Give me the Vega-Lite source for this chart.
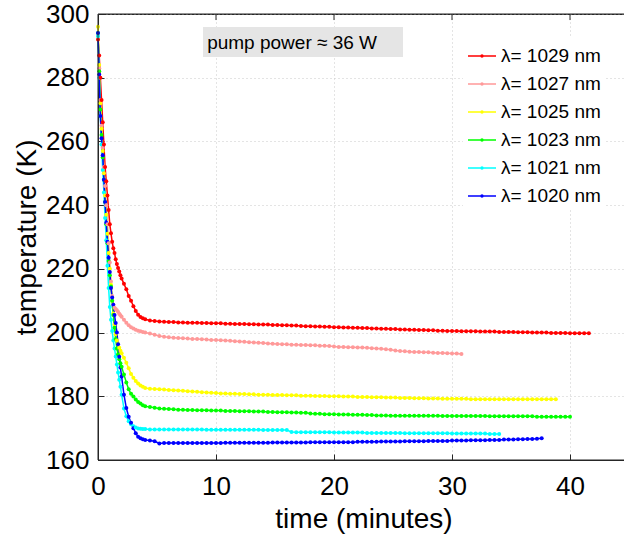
{
"$schema": "https://vega.github.io/schema/vega-lite/v6.json",
"width": 531, "height": 446,
"autosize": "none",
"padding": {"left": 98, "top": 14, "right": 0, "bottom": 85},
"background": "white",
"config": {
 "font": "Liberation Sans",
 "view": {"stroke": "#262626", "strokeWidth": 1, "strokeOpacity": 1},
 "axis": {"domain": true, "domainColor": "#262626", "domainWidth": 1, "tickColor": "#262626", "labelColor": "black", "titleColor": "black", "labelFont": "Liberation Sans", "titleFont": "Liberation Sans", "labelFontSize": 26, "titleFontSize": 28, "titleFontWeight": "normal", "gridColor": "#c8c8c8", "gridDash": [1, 3], "gridWidth": 1, "tickSize": -6, "labelFlush": false, "labelOverlap": false}
},
"datasets": {
 "temps": [
{"t":0,"1029":292,"1027":293,"1025":296,"1023":294,"1021":293,"1020":294},
{"t":0.1,"1029":287,"1027":283,"1025":284,"1023":282,"1021":280,"1020":281},
{"t":0.2,"1029":280,"1027":273,"1025":272,"1023":270,"1021":268,"1020":268},
{"t":0.3,"1029":273,"1027":265,"1025":264,"1023":262,"1021":259,"1020":261},
{"t":0.4,"1029":266,"1027":258,"1025":257,"1023":255,"1021":251,"1020":255.7},
{"t":0.5,"1029":259,"1027":252,"1025":250,"1023":248,"1021":244,"1020":248},
{"t":0.6,"1029":252,"1027":246,"1025":243,"1023":241,"1021":236,"1020":241},
{"t":0.7,"1029":247.5,"1027":240,"1025":237,"1023":234,"1021":229,"1020":234.5},
{"t":0.8,"1029":243,"1027":234,"1025":231,"1023":228,"1021":221,"1020":228.5},
{"t":0.9,"1029":238.5,"1027":228,"1025":225,"1023":222.5,"1021":214,"1020":223.5},
{"t":1.0,"1029":234,"1027":222,"1025":220,"1023":218,"1021":208,"1020":219},
{"t":1.1,"1029":231.2,"1027":216,"1025":215,"1023":214.5,"1021":204,"1020":214},
{"t":1.2,"1029":228.5,"1027":211.5,"1025":210,"1023":210,"1021":200.5,"1020":211},
{"t":1.3,"1029":226.5,"1027":208.7,"1025":206,"1023":205.5,"1021":197.5,"1020":208.7},
{"t":1.4,"1029":225,"1027":207.8,"1025":202.5,"1023":201.5,"1021":195,"1020":205.5},
{"t":1.5,"1029":223,"1027":207.4,"1025":199.5,"1023":198,"1021":192.5,"1020":203},
{"t":1.6,"1029":221.5,"1027":207,"1025":197.5,"1023":195,"1021":190,"1020":200},
{"t":1.7,"1029":220.3,"1027":206.5,"1025":196.4,"1023":193.2,"1021":187.5,"1020":196.3},
{"t":1.8,"1029":219.2,"1027":205.9,"1025":195.2,"1023":191.6,"1021":185.2,"1020":192.4},
{"t":1.9,"1029":218,"1027":205.4,"1025":194.3,"1023":190.4,"1021":183,"1020":189},
{"t":2.0,"1029":217,"1027":205,"1025":193.5,"1023":189.3,"1021":180.5,"1020":186.2},
{"t":2.2,"1029":215.3,"1027":204,"1025":192.1,"1023":186.8,"1021":176.2,"1020":180.5},
{"t":2.4,"1029":213.6,"1027":203.1,"1025":190.5,"1023":184.3,"1021":173.7,"1020":176.3},
{"t":2.6,"1029":211.5,"1027":202.3,"1025":188.8,"1023":182.2,"1021":172.2,"1020":173.6},
{"t":2.8,"1029":210,"1027":201.7,"1025":187,"1023":180.8,"1021":171.2,"1020":171.7},
{"t":3.0,"1029":208.3,"1027":201.3,"1025":185.8,"1023":179.9,"1021":170.6,"1020":170},
{"t":3.2,"1029":206.8,"1027":200.9,"1025":184.8,"1023":179,"1021":170.2,"1020":168.4},
{"t":3.4,"1029":205.6,"1027":200.6,"1025":184,"1023":178.2,"1021":169.9,"1020":167.3},
{"t":3.6,"1029":204.9,"1027":200.4,"1025":183.4,"1023":177.7,"1021":169.8,"1020":166.8},
{"t":3.8,"1029":204.5,"1027":200.2,"1025":183,"1023":177.2,"1021":169.7,"1020":166.5},
{"t":4.0,"1029":204.2,"1027":200,"1025":182.6,"1023":176.9,"1021":169.7,"1020":166.3},
{"t":4.4,"1029":203.8,"1027":199.7,"1025":182.4,"1023":176.6,"1021":169.6,"1020":166.1},
{"t":4.8,"1029":203.6,"1027":199.3,"1025":182.3,"1023":176.4,"1021":169.6,"1020":165.9},
{"t":5.2,"1029":203.5,"1027":198.9,"1025":182.2,"1023":176.2,"1021":169.6,"1020":165.2},
{"t":5.6,"1029":203.4,"1027":198.7,"1025":182.1,"1023":176.1,"1021":169.6,"1020":165.3},
{"t":6.0,"1029":203.3,"1027":198.5,"1025":182.0,"1023":176.0,"1021":169.6,"1020":165.3},
{"t":6.4,"1029":203.3,"1027":198.4,"1025":181.9,"1023":175.9,"1021":169.6,"1020":165.3},
{"t":6.8,"1029":203.2,"1027":198.3,"1025":181.8,"1023":175.8,"1021":169.6,"1020":165.3},
{"t":7.2,"1029":203.2,"1027":198.2,"1025":181.7,"1023":175.8,"1021":169.6,"1020":165.3},
{"t":7.6,"1029":203.1,"1027":198.1,"1025":181.6,"1023":175.7,"1021":169.6,"1020":165.3},
{"t":8.0,"1029":203.1,"1027":198.0,"1025":181.5,"1023":175.7,"1021":169.6,"1020":165.3},
{"t":8.4,"1029":203.1,"1027":198.0,"1025":181.4,"1023":175.6,"1021":169.6,"1020":165.3},
{"t":8.8,"1029":203.0,"1027":197.9,"1025":181.3,"1023":175.6,"1021":169.6,"1020":165.3},
{"t":9.2,"1029":203.0,"1027":197.8,"1025":181.2,"1023":175.6,"1021":169.5,"1020":165.3},
{"t":9.6,"1029":202.9,"1027":197.7,"1025":181.1,"1023":175.5,"1021":169.5,"1020":165.3},
{"t":10.0,"1029":202.9,"1027":197.7,"1025":181.0,"1023":175.5,"1021":169.5,"1020":165.3},
{"t":10.4,"1029":202.9,"1027":197.6,"1025":180.9,"1023":175.5,"1021":169.5,"1020":165.3},
{"t":10.8,"1029":202.8,"1027":197.5,"1025":180.9,"1023":175.4,"1021":169.5,"1020":165.4},
{"t":11.2,"1029":202.8,"1027":197.4,"1025":180.8,"1023":175.4,"1021":169.5,"1020":165.4},
{"t":11.6,"1029":202.7,"1027":197.3,"1025":180.8,"1023":175.4,"1021":169.5,"1020":165.4},
{"t":12.0,"1029":202.7,"1027":197.2,"1025":180.7,"1023":175.3,"1021":169.5,"1020":165.4},
{"t":12.4,"1029":202.7,"1027":197.1,"1025":180.7,"1023":175.3,"1021":169.5,"1020":165.4},
{"t":12.8,"1029":202.6,"1027":197.0,"1025":180.6,"1023":175.3,"1021":169.5,"1020":165.4},
{"t":13.2,"1029":202.6,"1027":196.9,"1025":180.6,"1023":175.2,"1021":169.5,"1020":165.4},
{"t":13.6,"1029":202.5,"1027":196.8,"1025":180.5,"1023":175.2,"1021":169.5,"1020":165.4},
{"t":14.0,"1029":202.5,"1027":196.7,"1025":180.5,"1023":175.2,"1021":169.4,"1020":165.4},
{"t":14.4,"1029":202.5,"1027":196.6,"1025":180.5,"1023":175.1,"1021":169.4,"1020":165.4},
{"t":14.8,"1029":202.4,"1027":196.5,"1025":180.4,"1023":175.1,"1021":169.4,"1020":165.5},
{"t":15.2,"1029":202.4,"1027":196.4,"1025":180.4,"1023":175.0,"1021":169.4,"1020":165.5},
{"t":15.6,"1029":202.3,"1027":196.3,"1025":180.4,"1023":175.0,"1021":169.4,"1020":165.5},
{"t":16.0,"1029":202.3,"1027":196.3,"1025":180.3,"1023":175.0,"1021":169.4,"1020":165.5},
{"t":16.4,"1029":202.2,"1027":196.2,"1025":180.3,"1023":174.9,"1021":168.8,"1020":165.5},
{"t":16.8,"1029":202.2,"1027":196.2,"1025":180.3,"1023":174.9,"1021":168.7,"1020":165.5},
{"t":17.2,"1029":202.1,"1027":196.1,"1025":180.2,"1023":174.8,"1021":168.7,"1020":165.5},
{"t":17.6,"1029":202.0,"1027":196.1,"1025":180.2,"1023":174.8,"1021":168.7,"1020":165.5},
{"t":18.0,"1029":202.0,"1027":196.0,"1025":180.2,"1023":174.6,"1021":168.7,"1020":165.6},
{"t":18.4,"1029":201.9,"1027":196.0,"1025":180.1,"1023":174.5,"1021":168.7,"1020":165.6},
{"t":18.8,"1029":201.9,"1027":195.9,"1025":180.1,"1023":174.5,"1021":168.7,"1020":165.6},
{"t":19.2,"1029":201.8,"1027":195.9,"1025":180.1,"1023":174.4,"1021":168.7,"1020":165.6},
{"t":19.6,"1029":201.8,"1027":195.8,"1025":180.0,"1023":174.4,"1021":168.7,"1020":165.6},
{"t":20.0,"1029":201.7,"1027":195.6,"1025":180.0,"1023":174.4,"1021":168.6,"1020":165.6},
{"t":20.4,"1029":201.7,"1027":195.5,"1025":180.0,"1023":174.3,"1021":168.6,"1020":165.6},
{"t":20.8,"1029":201.6,"1027":195.5,"1025":179.9,"1023":174.3,"1021":168.6,"1020":165.6},
{"t":21.2,"1029":201.6,"1027":195.4,"1025":179.9,"1023":174.3,"1021":168.6,"1020":165.6},
{"t":21.6,"1029":201.5,"1027":195.4,"1025":179.9,"1023":174.2,"1021":168.6,"1020":165.6},
{"t":22.0,"1029":201.5,"1027":195.3,"1025":179.8,"1023":174.2,"1021":168.6,"1020":165.7},
{"t":22.4,"1029":201.4,"1027":195.3,"1025":179.8,"1023":174.2,"1021":168.6,"1020":165.7},
{"t":22.8,"1029":201.4,"1027":195.2,"1025":179.8,"1023":174.1,"1021":168.5,"1020":165.7},
{"t":23.2,"1029":201.3,"1027":195.1,"1025":179.7,"1023":174.1,"1021":168.5,"1020":165.7},
{"t":23.6,"1029":201.3,"1027":195.0,"1025":179.7,"1023":174.0,"1021":168.5,"1020":165.7},
{"t":24.0,"1029":201.2,"1027":194.9,"1025":179.7,"1023":174.0,"1021":168.5,"1020":165.8},
{"t":24.4,"1029":201.2,"1027":194.8,"1025":179.6,"1023":174.0,"1021":168.5,"1020":165.8},
{"t":24.8,"1029":201.1,"1027":194.6,"1025":179.6,"1023":173.9,"1021":168.5,"1020":165.8},
{"t":25.2,"1029":201.1,"1027":194.4,"1025":179.6,"1023":173.9,"1021":168.5,"1020":165.8},
{"t":25.6,"1029":201.0,"1027":194.2,"1025":179.5,"1023":173.9,"1021":168.5,"1020":165.8},
{"t":26.0,"1029":201.0,"1027":194.1,"1025":179.5,"1023":173.9,"1021":168.4,"1020":165.9},
{"t":26.4,"1029":200.9,"1027":194.0,"1025":179.5,"1023":173.9,"1021":168.4,"1020":165.9},
{"t":26.8,"1029":200.9,"1027":193.9,"1025":179.4,"1023":173.9,"1021":168.4,"1020":165.9},
{"t":27.2,"1029":200.8,"1027":193.9,"1025":179.4,"1023":173.9,"1021":168.4,"1020":165.9},
{"t":27.6,"1029":200.8,"1027":193.8,"1025":179.4,"1023":173.9,"1021":168.4,"1020":165.9},
{"t":28.0,"1029":200.7,"1027":193.8,"1025":179.3,"1023":173.9,"1021":168.4,"1020":166.0},
{"t":28.4,"1029":200.7,"1027":193.7,"1025":179.3,"1023":173.9,"1021":168.4,"1020":166.0},
{"t":28.8,"1029":200.6,"1027":193.6,"1025":179.3,"1023":173.9,"1021":168.4,"1020":166.0},
{"t":29.2,"1029":200.6,"1027":193.6,"1025":179.2,"1023":173.8,"1021":168.4,"1020":166.0},
{"t":29.6,"1029":200.5,"1027":193.5,"1025":179.2,"1023":173.8,"1021":168.4,"1020":166.0},
{"t":30.0,"1029":200.5,"1027":193.4,"1025":179.2,"1023":173.8,"1021":168.3,"1020":166.1},
{"t":30.4,"1029":200.5,"1027":193.4,"1025":179.2,"1023":173.8,"1021":168.3,"1020":166.1},
{"t":30.8,"1029":200.4,"1027":193.3,"1025":179.2,"1023":173.8,"1021":168.3,"1020":166.1},
{"t":31.2,"1029":200.4,"1025":179.2,"1023":173.8,"1021":168.3,"1020":166.1},
{"t":31.6,"1029":200.4,"1025":179.1,"1023":173.8,"1021":168.3,"1020":166.2},
{"t":32.0,"1029":200.4,"1025":179.1,"1023":173.8,"1021":168.3,"1020":166.2},
{"t":32.4,"1029":200.3,"1025":179.1,"1023":173.8,"1021":168.3,"1020":166.2},
{"t":32.8,"1029":200.3,"1025":179.1,"1023":173.8,"1021":168.3,"1020":166.2},
{"t":33.2,"1029":200.3,"1025":179.1,"1023":173.7,"1021":168.2,"1020":166.3},
{"t":33.6,"1029":200.3,"1025":179.1,"1023":173.7,"1021":168.2,"1020":166.3},
{"t":34.0,"1029":200.2,"1025":179.1,"1023":173.7,"1021":168.2,"1020":166.3},
{"t":34.4,"1029":200.2,"1025":179.1,"1023":173.7,"1020":166.4},
{"t":34.8,"1029":200.2,"1025":179.1,"1023":173.7,"1020":166.4},
{"t":35.2,"1029":200.2,"1025":179.1,"1023":173.7,"1020":166.4},
{"t":35.6,"1029":200.1,"1025":179.1,"1023":173.7,"1020":166.5},
{"t":36.0,"1029":200.1,"1025":179.1,"1023":173.7,"1020":166.5},
{"t":36.4,"1029":200.1,"1025":179.1,"1023":173.7,"1020":166.6},
{"t":36.8,"1029":200.0,"1025":179.1,"1023":173.7,"1020":166.6},
{"t":37.2,"1029":200.0,"1025":179.1,"1023":173.6,"1020":166.7},
{"t":37.6,"1029":200.0,"1025":179.1,"1023":173.6,"1020":166.8},
{"t":38.0,"1029":200.0,"1025":179.1,"1023":173.6},
{"t":38.4,"1029":199.9,"1025":179.1,"1023":173.6},
{"t":38.8,"1029":199.9,"1025":179.1,"1023":173.6},
{"t":39.2,"1029":199.9,"1023":173.6},
{"t":39.6,"1029":199.9,"1023":173.6},
{"t":40.0,"1029":199.8,"1023":173.6},
{"t":40.4,"1029":199.8},
{"t":40.8,"1029":199.8},
{"t":41.2,"1029":199.8},
{"t":41.6,"1029":199.8}
 ],
 "topticks": [{"v": 10}, {"v": 20}, {"v": 30}, {"v": 40}]
},
"layer": [
 {
  "data": {"name": "temps"},
  "transform": [
   {"fold": ["1029", "1027", "1025", "1023", "1021", "1020"], "as": ["k", "T"]},
   {"filter": "isValid(datum.T)"}
  ],
  "mark": {"type": "line", "strokeWidth": 1.5, "point": {"filled": true, "size": 16}},
  "encoding": {
   "x": {"field": "t", "type": "quantitative", "scale": {"domain": [0, 45], "nice": false},
     "axis": {"orient": "bottom", "values": [0, 10, 20, 30, 40], "title": "time (minutes)", "labelPadding": 19, "titlePadding": 6, "grid": true}},
   "y": {"field": "T", "type": "quantitative", "scale": {"domain": [160, 300], "nice": false, "zero": false},
     "axis": {"orient": "left", "values": [160, 180, 200, 220, 240, 260, 280, 300], "title": "temperature (K)", "labelPadding": 15, "titlePadding": 4, "grid": true}},
   "color": {"field": "k", "type": "nominal",
     "scale": {"domain": ["1029", "1027", "1025", "1023", "1021", "1020"], "range": ["#ff0000", "#ff9999", "#ffff00", "#00ff00", "#00ffff", "#0000ff"]},
     "legend": {"orient": "none", "legendX": 365, "legendY": 23, "title": null, "labelFontSize": 19, "labelFont": "Liberation Sans", "labelColor": "black",
       "symbolType": "M-1,0H1M0.07,0A0.07,0.07,0,1,1,-0.07,0A0.07,0.07,0,1,1,0.07,0Z", "symbolSize": 784, "symbolStrokeWidth": 1.5,
       "rowPadding": 3, "labelOffset": 4, "fillColor": "white", "padding": 4, "labelExpr": "'λ= ' + datum.label + ' nm'"}}
  }
 },
 {
  "data": {"values": [{}]},
  "mark": {"type": "rect", "color": "#e5e5e5"},
  "encoding": {
   "x": {"datum": 8.9, "type": "quantitative"},
   "x2": {"datum": 25.85},
   "y": {"datum": 295.9, "type": "quantitative"},
   "y2": {"datum": 286.5}
  }
 },
 {
  "data": {"values": [{}]},
  "mark": {"type": "text", "align": "left", "baseline": "alphabetic", "fontSize": 19, "color": "black", "text": "pump power ≈ 36 W"},
  "encoding": {
   "x": {"datum": 9.25, "type": "quantitative"},
   "y": {"datum": 288.9, "type": "quantitative"}
  }
 },
 {
  "data": {"values": [{}]},
  "mark": {"type": "rule", "color": "#262626", "strokeWidth": 1},
  "encoding": {"x": {"datum": 0, "type": "quantitative"}}
 },
 {
  "data": {"values": [{}]},
  "mark": {"type": "rule", "color": "#262626", "strokeWidth": 1},
  "encoding": {"y": {"datum": 160, "type": "quantitative"}}
 },
 {
  "data": {"values": [{}]},
  "mark": {"type": "rule", "color": "#262626", "strokeWidth": 1},
  "encoding": {"y": {"datum": 300, "type": "quantitative"}}
 },
 {
  "data": {"name": "topticks"},
  "mark": {"type": "rule", "color": "#262626", "strokeWidth": 1},
  "encoding": {
   "x": {"field": "v", "type": "quantitative"},
   "y": {"datum": 300, "type": "quantitative"},
   "y2": {"datum": 298.1}
  }
 }
]
}
